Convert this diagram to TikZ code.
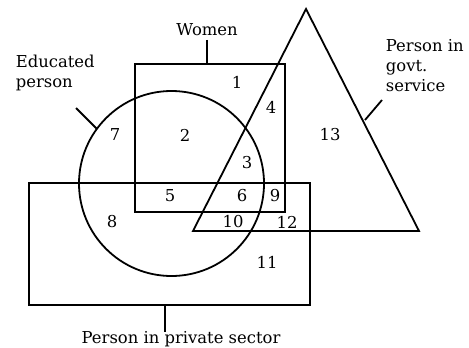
\documentclass[tikz,border=0pt]{standalone}
\usepackage{fontspec}
\setmainfont{DejaVu Serif}
\begin{document}
\begin{tikzpicture}[x=0.5pt,y=-0.5pt,line width=0.9pt,
  every node/.style={font=\fontsize{8.2}{10}\selectfont,inner sep=0pt}]
\useasboundingbox (0,0) rectangle (469,347);

% Women
\draw (135,64) rectangle (285,212);
\coordinate (womentop) at (207,64);

% Educated person
\draw (171.5,183.5) circle[radius=46.25pt];
\coordinate (eduedge) at (97,129);

% Person in govt. service
\draw (306,9) -- (419,231) -- (193,231) -- cycle;
\coordinate (govtedge) at (365,120);

% Person in private sector
\draw (29,183) rectangle (310,305);
\coordinate (privbottom) at (165,305);
\coordinate (privend) at (165,332);

% Set labels
\node[anchor=base] (women) at (207,36) {Women};
\draw (207,40) -- (womentop);
\node[anchor=base west,align=left] (edu) at (15,88) {Educated\\person};
\coordinate (edutip) at (76,108);
\draw (edutip) -- (eduedge);
\node[anchor=base west,align=left] (govt) at (385,92) {Person in\\govt.\\service};
\coordinate (govttip) at (382,100);
\draw (govttip) -- (govtedge);
\node[anchor=base] (priv) at (181,343) {Person in private sector};
\draw (privbottom) -- (privend);

% Region numbers
\foreach \n/\x/\y in {1/237/82,2/185/135,3/247/163,4/271/107,5/170/196,
  6/242/196,7/115/135,8/112/222,9/275/196,10/233/222,11/267/262,
  12/287/222,13/330/135}
  \node (r\n) at (\x,\y) {\n};
\end{tikzpicture}
\end{document}
